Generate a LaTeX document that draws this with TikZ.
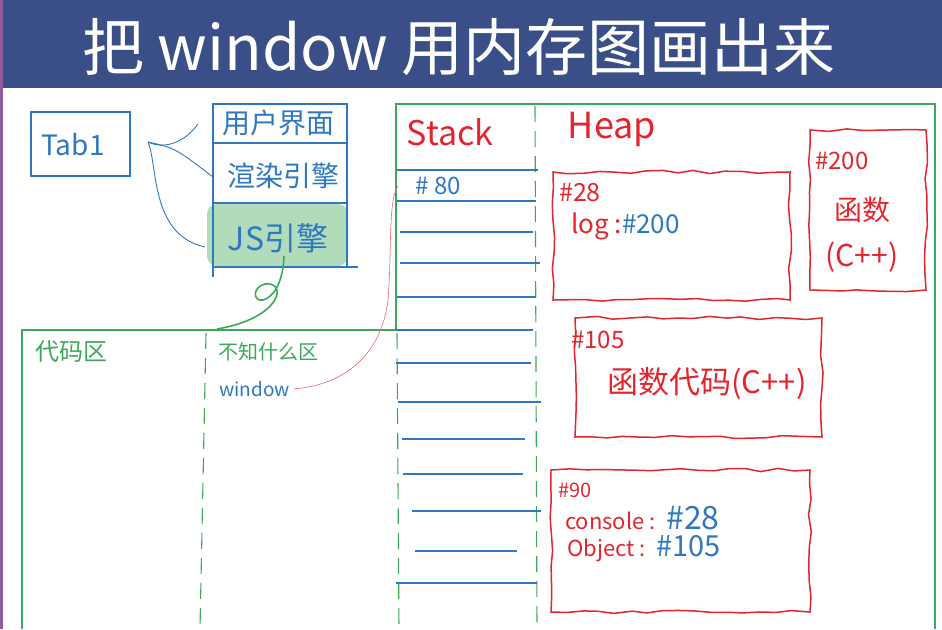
\documentclass[tikz,border=0pt]{standalone}
\usepackage{fontspec}
\newfontfamily\cjk{Noto Sans CJK SC}
\usetikzlibrary{decorations.pathmorphing}
\definecolor{hblue}{HTML}{2F78C0}
\definecolor{hred}{HTML}{E3262E}
\definecolor{hgreen}{HTML}{3BA95A}
\definecolor{barblue}{HTML}{3A4F88}
\definecolor{purp}{HTML}{8F5C9E}
\newcommand\hfsz[1]{\fontsize{#1}{#1}\selectfont}
\begin{document}
\begin{tikzpicture}[x=1pt,y=-1pt,
  bline/.style={draw=hblue, line width=1.3pt},
  bthin/.style={draw=hblue, line width=0.9pt},
  gline/.style={draw=hgreen, line width=1.1pt},
  gdash/.style={draw=hgreen, line width=1.1pt, dash pattern=on 16pt off 9pt},
  redbox/.style={draw=hred, line width=1.5pt, decorate,
     decoration={random steps, segment length=16pt, amplitude=1.6pt}},
  btxt/.style={text=hblue, font=\cjk\hfsz{#1}, inner sep=0pt},
  rtxt/.style={text=hred, font=\cjk\hfsz{#1}, inner sep=0pt},
  gtxt/.style={text=hgreen, font=\cjk\hfsz{#1}, inner sep=0pt},
  stackln/.style={draw=hblue, line width=1.1pt}
]
\pgfmathsetseed{7}
\useasboundingbox (0,0) rectangle (942,629);
\fill[white] (0,0) rectangle (942,629);
% title bar
\fill[barblue] (0,0) rectangle (942,88);
\node[text=white, font=\cjk\hfsz{62}, inner sep=0pt] (title) at (459,47) {把 window 用内存图画出来};
\fill[purp] (0,0) rectangle (2.5,629);

% Tab1
\draw[bline] (31,112) rectangle (130,176);
\node[btxt=28] (tab) at (73,145) {Tab1};

% browser layers
\fill[hgreen!50, opacity=0.8, rounded corners=10pt] (207,204) rectangle (348,266);
\draw[bline] (213,277) -- (213,104) -- (347,104) -- (347,266);
\draw[bline] (213,143) -- (347,143);
\draw[bline] (213,203) -- (347,203);
\draw[bline] (213,267) -- (358,267);
\node[btxt=28] (ui) at (278,123) {用户界面};
\node[btxt=28] (render) at (283,176) {渲染引擎};
\node[btxt=32] (js) at (278,238) {JS引擎};

\coordinate (tabc) at (148,142);
\coordinate (uiend) at (198,124);
\coordinate (rdend) at (213,177);
\coordinate (jsend) at (205,247);
\draw[bthin] (tabc) .. controls (165,150) and (185,142) .. (uiend);
\draw[bthin] (tabc) .. controls (175,148) .. (rdend);
\draw[bthin] (tabc) .. controls (158,165) and (150,235) .. (jsend);

% green loop
\coordinate (loopend) at (217,329);
\draw[draw=hgreen, line width=1.6pt] (js.south) ++(6,3) .. controls (283,282) and (274,297) .. (263,300)
  .. controls (253,302) and (252,287) .. (265,284)
  .. controls (288,281) and (282,318) .. (loopend);

% code area
\draw[gline] (22,629) -- (22,330) -- (396,330);
\draw[gdash] (206,333) -- (200,629);
\node[gtxt=24, anchor=west] (code) at (35,352) {代码区};
\node[gtxt=20, anchor=west] (unk) at (218,352) {不知什么区};
\node[btxt=19, anchor=west] (win) at (219,389) {window};

% stack / heap enclosure
\draw[gline] (396,330) -- (396,104) -- (935,104) -- (935,629);
\draw[gdash] (397,333) -- (399,629);
\draw[gdash] (535,106) -- (537,629);
\node[rtxt=34] (stack) at (450,132) {Stack};
\node[rtxt=36] (heap) at (612,129) {Heap};

% stack rows
\draw[stackln] (397,170) -- (538,170);
\draw[stackln] (397,201) -- (536,201);
\draw[stackln] (400,232) -- (533,232);
\draw[stackln] (400,263) -- (540,263);
\draw[stackln] (397,297) -- (536,297);
\draw[stackln] (396,330) -- (533,330);
\draw[stackln] (396,363) -- (531,363);
\draw[stackln] (398,402) -- (541,402);
\draw[stackln] (402,439) -- (525,439);
\draw[stackln] (403,474) -- (523,474);
\draw[stackln] (412,511) -- (541,511);
\draw[stackln] (415,551) -- (517,551);
\draw[stackln] (396,583) -- (537,583);
\node[btxt=24] (s80) at (438,186) {\# 80};

% red pointer from window to stack row
\coordinate (srow) at (398,186);
\draw[draw=hred!70, line width=0.6pt] (win.east) ++(4,0) .. controls (350,384) and (382,350) .. (388,300)
  .. controls (392,250) and (388,200) .. (srow);

% heap objects
\draw[redbox] (553,172) rectangle (790,300);
\node[rtxt=25, anchor=west] (h28) at (559,193) {\#28};
\node[anchor=west, inner sep=0pt, font=\cjk\hfsz{26}] (log) at (571,226) {\textcolor{hred}{log :}\textcolor{hblue}{\#200}};

\draw[redbox] (810,130) rectangle (926,290);
\node[rtxt=24, anchor=west] (h200) at (815,161) {\#200};
\node[rtxt=28] (fn) at (862,210) {函数};
\node[rtxt=30] (cpp) at (862,257) {(C++)};

\draw[redbox] (575,318) rectangle (822,437);
\node[rtxt=24, anchor=west] (h105) at (571,340) {\#105};
\node[rtxt=31] (fncode) at (707,383) {函数代码(C++)};

\draw[redbox] (551,470) rectangle (810,612);
\node[rtxt=20, anchor=west] (h90) at (558,490) {\#90};
\node[anchor=west, inner sep=0pt] (cons) at (565,518) {\textcolor{hred}{\cjk\hfsz{22}console : }\hspace{4pt}\textcolor{hblue}{\cjk\hfsz{32}\#28}};
\node[anchor=west, inner sep=0pt] (obj) at (567,549) {\textcolor{hred}{\cjk\hfsz{22}Object : }\hspace{4pt}\textcolor{hblue}{\cjk\hfsz{29}\#105}};
\end{tikzpicture}
\end{document}
